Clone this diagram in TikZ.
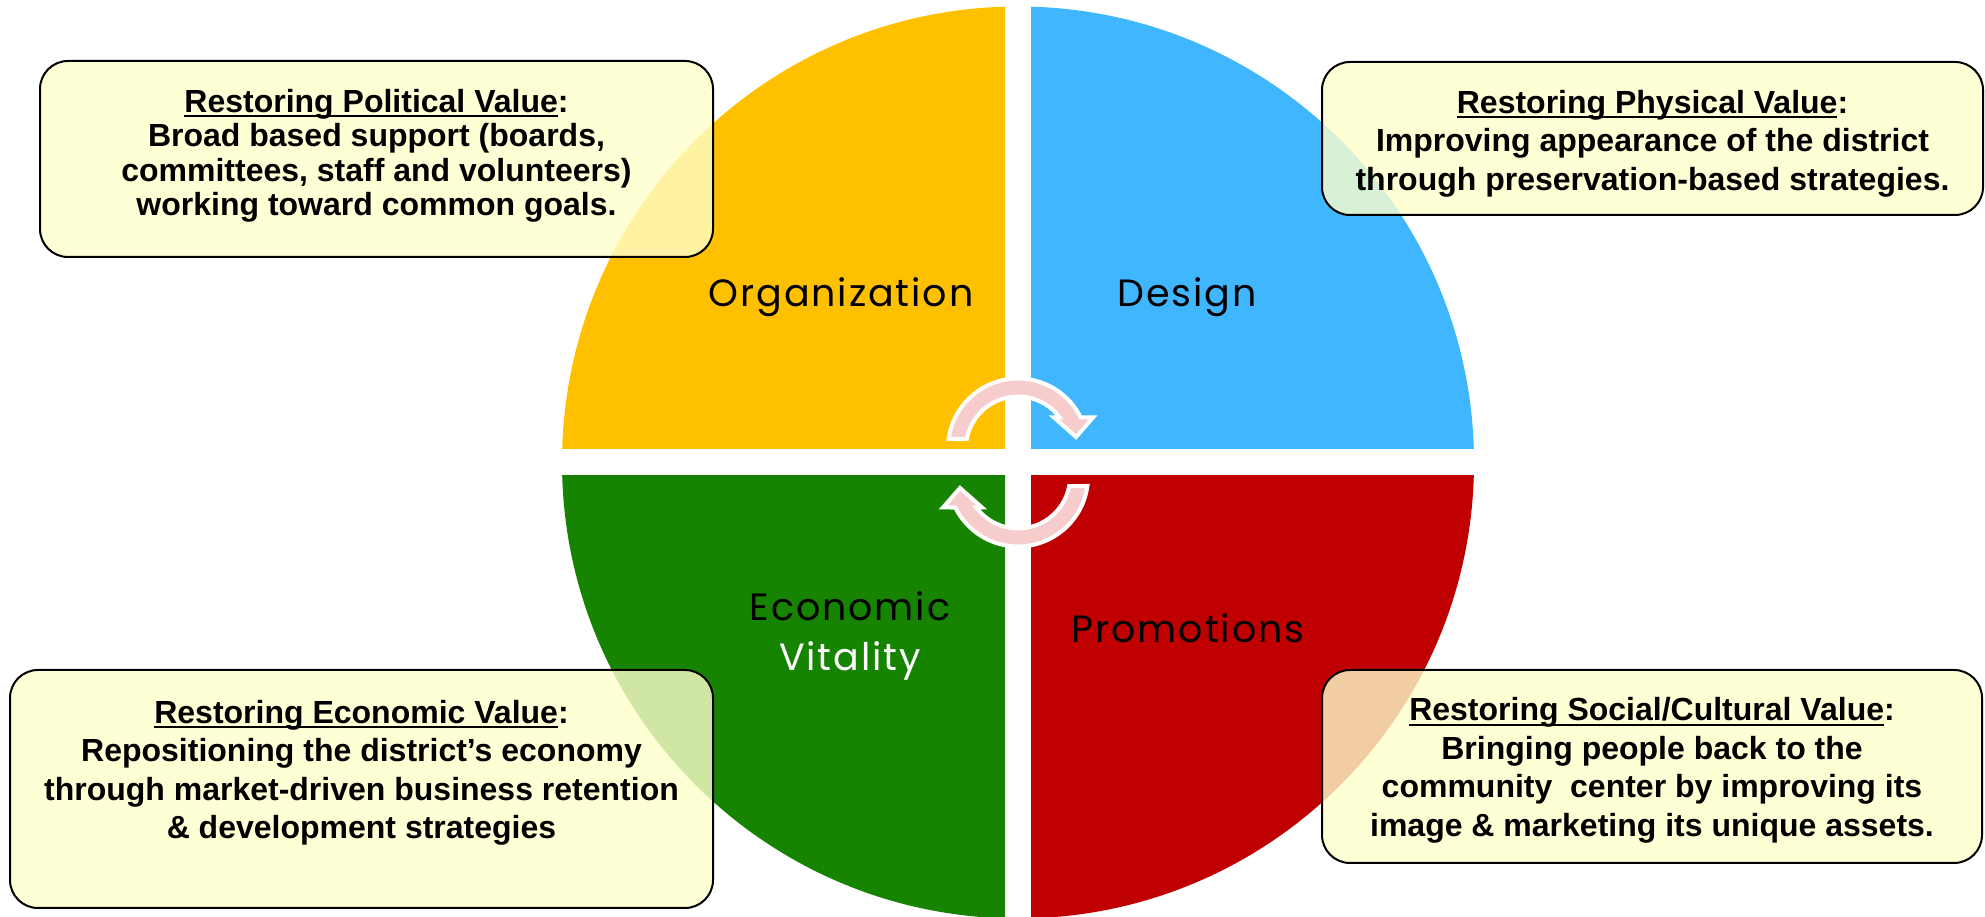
\documentclass[tikz,border=0pt]{standalone}
\usepackage{fontspec}
\usepackage{tikz}
\usetikzlibrary{positioning}
\newfontfamily\boxfont{Liberation Sans}
\newfontfamily\quadfont{Poppins}[LetterSpace=5]
\definecolor{orgfill}{HTML}{FFC000}
\definecolor{desfill}{HTML}{40B6FF}
\definecolor{ecofill}{HTML}{168400}
\definecolor{profill}{HTML}{C00000}
\definecolor{arrowfill}{HTML}{F6CCCC}
\definecolor{notefill}{HTML}{FFFFCC}
\newcommand{\ulhead}[1]{\setbox0\hbox{#1}\rlap{\rule[-5pt]{\wd0}{2.4pt}}\box0}
\tikzset
{
	notebox/.style   = {rectangle, draw=black, line width=2pt, rounded corners=28pt, fill=notefill, fill opacity=0.8, inner sep=0pt},
	notetext/.style  = {align=center, inner sep=0pt, font=\boxfont\bfseries\fontsize{32}{38.5}\selectfont},
	quadlabel/.style = {anchor=base, inner sep=0pt, font=\quadfont\fontsize{38}{46}\selectfont},
	cyclearrow/.style = {fill=arrowfill, draw=white, line width=4pt, line join=miter}
}

\begin{document}
\begin{tikzpicture}[x=1pt, y=1pt]
\useasboundingbox (0,0) rectangle (1985,917);
\coordinate (hub) at (1018,454.5);

\foreach \qx/\qy/\qcol in {-1/1/orgfill, 1/1/desfill, -1/-1/ecofill, 1/-1/profill}
{
	\begin{scope}
		\clip ([shift={(\qx*13,\qy*13.5)}]hub) rectangle ([shift={(\qx*480,\qy*480)}]hub);
		\fill[\qcol] (hub) circle[radius=456pt];
	\end{scope}
}

\begin{scope}[shift={(1018,468.5)}]
	\filldraw[cyclearrow] (-69.4,9.5) arc[start angle=172.2, end angle=26.3, radius=70pt] -- (75,31) -- (58,11.5) -- (36,31) -- (41.7,31) arc[start angle=36.6, end angle=169.4, radius=52pt] -- cycle;
\end{scope}
\begin{scope}[shift={(1018,440.5)}, rotate=180]
	\filldraw[cyclearrow] (-69.4,9.5) arc[start angle=172.2, end angle=26.3, radius=70pt] -- (75,31) -- (58,11.5) -- (36,31) -- (41.7,31) arc[start angle=36.6, end angle=169.4, radius=52pt] -- cycle;
\end{scope}

\node[quadlabel] (orglabel) at (841,610) {Organization};
\node[quadlabel] (deslabel) at (1187,610) {Design};
\node[quadlabel] (ecolabel) at (850,296) {Economic};
\node[quadlabel, text=white] (vitlabel) at (850,246) {Vitality};
\node[quadlabel] (prolabel) at (1188,274) {Promotions};

\node[notebox, minimum width=673pt, minimum height=196pt] (polbox) at (376.5,758) {};
\node[notetext, font=\boxfont\bfseries\fontsize{32}{34.5}\selectfont] (poltext) at ([yshift=3pt]polbox.center)
	{\ulhead{Restoring Political Value}:\\Broad based support (boards,\\committees, staff and volunteers)\\working toward common goals.};

\node[notebox, minimum width=661pt, minimum height=153pt] (physbox) at (1652.5,778.5) {};
\node[notetext] (phystext) at ([yshift=-5pt]physbox.center)
	{\ulhead{Restoring Physical Value}:\\Improving appearance of the district\\through preservation-based strategies.};

\node[notebox, minimum width=703pt, minimum height=238pt] (econbox) at (361.5,128) {};
\node[notetext] (econtext) at ([yshift=16pt]econbox.center)
	{\ulhead{Restoring Economic Value}:\\Repositioning the district’s economy\\through market-driven business retention\\\& development strategies};

\node[notebox, minimum width=660pt, minimum height=193pt] (socbox) at (1652,150.5) {};
\node[notetext] (soctext) at ([yshift=-4pt]socbox.center)
	{\ulhead{Restoring Social/Cultural Value}:\\Bringing people back to the\\community\ \ center by improving its\\image \& marketing its unique assets.};
\end{tikzpicture}
\end{document}
